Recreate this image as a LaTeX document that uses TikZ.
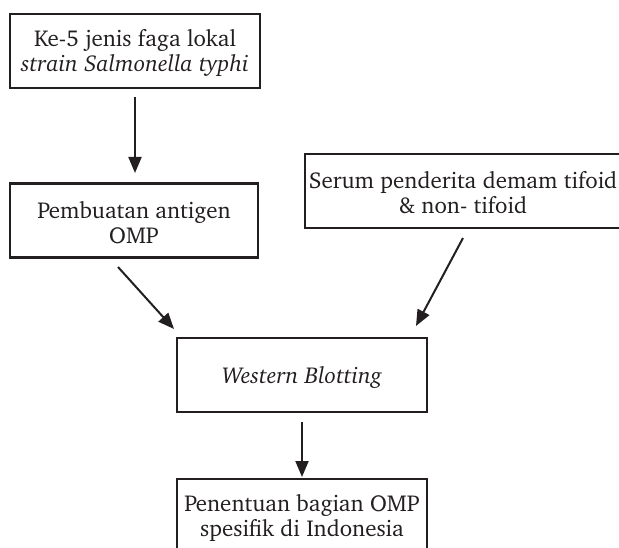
\documentclass[tikz,border=0pt]{standalone}
\usepackage[T1]{fontenc}
\usepackage{charter}
\usetikzlibrary{arrows.meta}
\definecolor{ink}{HTML}{231F20}
\newcommand\toplift{\rule{0pt}{21pt}}
\tikzset{
  flowbox/.style={draw=ink, line width=2.4pt, text=ink, align=center, inner sep=0pt,
    minimum width=#1, minimum height=74pt,
    font=\fontsize{23}{25}\selectfont},
  flowbox/.default=250pt,
  arr/.style={draw=ink, line width=2pt, -{Triangle[length=16pt,width=13pt]}}
}
\begin{document}
\begin{tikzpicture}[x=1pt,y=-1pt]
\useasboundingbox (0,0) rectangle (619,548);
\clip (0,0) rectangle (619,548);
\node[flowbox=250pt] (b1) at (135,51) {\toplift Ke-5 jenis faga lokal\\\textit{strain Salmonella typhi}};
\node[flowbox=248pt] (b2) at (134,220.5) {\toplift Pembuatan antigen\\OMP};
\node[flowbox=316pt] (b3) at (463,191) {\toplift Serum penderita demam tifoid\\\& non- tifoid};
\node[flowbox=250pt] (b4) at (302,375) {\toplift\textit{Western Blotting}};
\node[flowbox=250pt] (b5) at (302,516) {\toplift Penentuan bagian OMP\\spesifik di Indonesia};
\coordinate (a1s) at (135,97);
\coordinate (a1e) at (135,173);
\coordinate (a2s) at (118,267);
\coordinate (a2e) at (174,329);
\coordinate (a3s) at (463,238);
\coordinate (a3e) at (416,326);
\coordinate (a4s) at (302,422);
\coordinate (a4e) at (302,477);
\draw[arr] (a1s) -- (a1e);
\draw[arr] (a2s) -- (a2e);
\draw[arr] (a3s) -- (a3e);
\draw[arr] (a4s) -- (a4e);
\end{tikzpicture}
\end{document}
